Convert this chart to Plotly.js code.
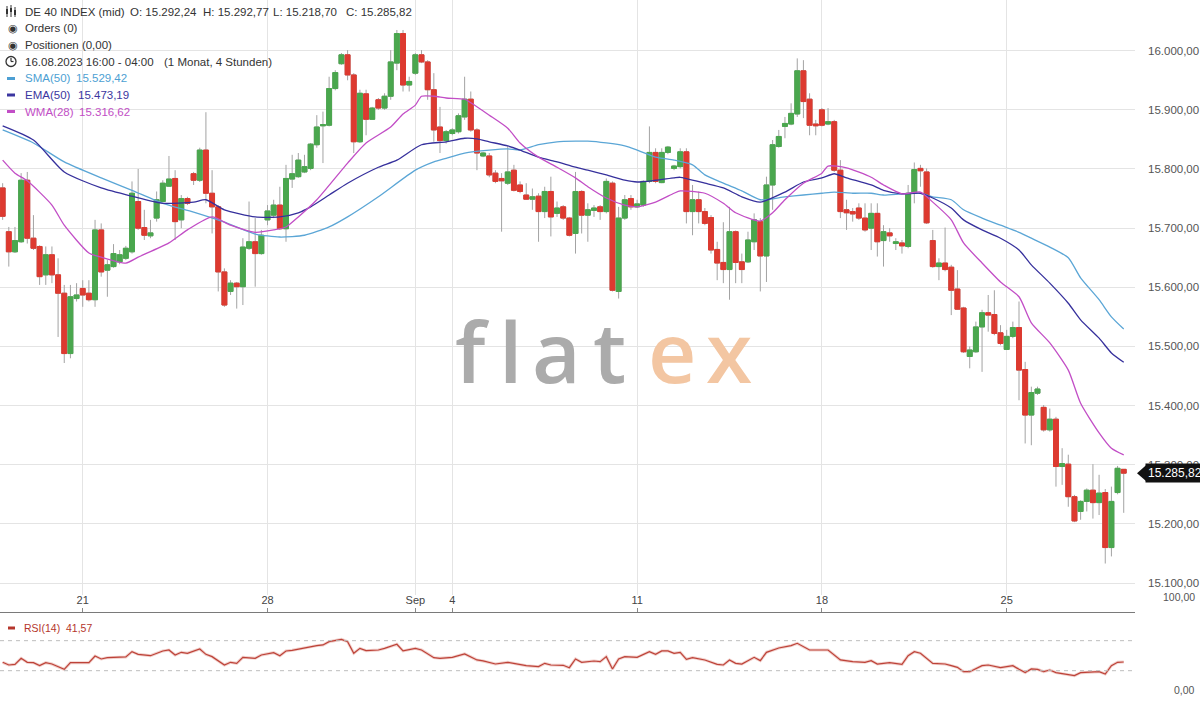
<!DOCTYPE html>
<html><head><meta charset="utf-8">
<script src="https://cdn.plot.ly/plotly-3.0.1.min.js"></script>
<style>html,body{margin:0;padding:0;background:#fff;overflow:hidden}#chart{width:1200px;height:701px}</style>
</head><body><div id="chart"></div>
<script>
// ---- 4h candles DE 40 (index 1 = 16.08.2023 20:00) ----
const openP = [15768,15694,15660,15677,15781,15683,15669,15621,15655,15621,
15590,15488,15581,15598,15590,15579,15697,15629,15635,15643,
15649,15660,15745,15701,15687,15717,15745,15771,15784,15714,
15750,15792,15781,15832,15759,15736,15626,15593,15607,15601,
15666,15677,15657,15714,15722,15739,15699,15783,15787,15795,
15801,15841,15873,15874,15936,15978,15993,15959,15846,15927,
15884,15917,15903,15923,15979,16029,15942,15962,15993,15981,
15934,15871,15848,15860,15863,15888,15918,15866,15822,15822,
15793,15784,15776,15798,15773,15756,15749,15754,15728,15762,
15725,15736,15717,15691,15762,15722,15730,15736,15728,15776,
15593,15717,15750,15736,15739,15779,15828,15777,15828,15801,
15804,15829,15728,15748,15728,15718,15664,15642,15630,15694,
15643,15643,15677,15711,15653,15773,15838,15872,15876,15893,
15966,15918,15876,15900,15876,15880,15798,15731,15728,15734,
15717,15700,15725,15679,15692,15674,15675,15669,15759,15801,
15795,15679,15635,15641,15634,15597,15565,15483,15491,15533,
15557,15554,15523,15495,15517,15532,15461,15384,15421,15397,
15359,15377,15297,15301,15246,15221,15238,15257,15236,15253,
15160,15253,15292.24];
const highP = [15776,15702,15702,15793,15795,15722,15671,15669,15669,15649,
15604,15604,15607,15612,15612,15714,15708,15646,15673,15663,
15670,15779,15800,15731,15714,15762,15781,15822,15798,15756,
15753,15795,15836,15896,15798,15739,15632,15612,15609,15683,
15745,15717,15697,15739,15748,15770,15807,15824,15827,15824,
15844,15891,15897,15956,15967,15996,16001,15962,15934,15934,
15905,15920,15928,16001,16035,16035,15956,15996,16001,15984,
15962,15905,15866,15869,15894,15956,15931,15869,15829,15827,
15798,15793,15839,15807,15779,15776,15767,15759,15770,15787,
15745,15739,15719,15795,15764,15742,15739,15739,15784,15779,
15736,15756,15756,15748,15781,15872,15835,15835,15839,15807,
15835,15835,15773,15762,15734,15722,15677,15710,15736,15696,
15657,15694,15725,15717,15787,15849,15866,15888,15911,15987,
15984,15928,15883,15903,15903,15883,15815,15748,15734,15742,
15742,15742,15742,15705,15700,15683,15680,15773,15811,15807,
15801,15697,15649,15701,15638,15629,15567,15500,15542,15562,
15587,15595,15536,15528,15542,15576,15474,15432,15432,15401,
15395,15381,15328,15317,15249,15240,15260,15301,15283,15259,
15263,15298,15292.77];
const lowP = [15714,15635,15658,15675,15674,15663,15604,15604,15607,15516,
15472,15480,15576,15567,15576,15567,15618,15584,15633,15639,
15646,15657,15697,15680,15683,15711,15743,15770,15680,15700,
15739,15773,15778,15742,15691,15593,15567,15587,15564,15570,
15663,15601,15655,15705,15717,15697,15677,15768,15785,15793,
15798,15836,15810,15872,15933,15976,15950,15827,15844,15857,
15883,15900,15900,15917,15967,15931,15931,15959,15979,15917,
15846,15827,15843,15857,15860,15883,15863,15798,15820,15786,
15776,15694,15773,15762,15759,15748,15731,15677,15717,15686,
15719,15714,15686,15657,15691,15677,15719,15714,15725,15593,
15581,15714,15731,15734,15736,15776,15776,15776,15825,15798,
15801,15708,15688,15708,15705,15657,15612,15607,15579,15607,
15607,15641,15663,15593,15609,15731,15836,15852,15874,15888,
15886,15857,15857,15872,15874,15795,15717,15697,15711,15714,
15694,15663,15652,15635,15677,15663,15657,15666,15742,15770,
15707,15633,15612,15627,15553,15562,15489,15463,15489,15457,
15525,15519,15502,15494,15514,15409,15336,15333,15418,15356,
15356,15263,15266,15229,15203,15207,15221,15209,15215,15133,
15145,15250,15218.70];
const closeP = [15720,15660,15679,15781,15683,15666,15618,15655,15621,15590,
15488,15584,15587,15587,15579,15697,15626,15638,15657,15655,
15666,15759,15700,15688,15692,15748,15776,15783,15711,15750,
15742,15781,15832,15759,15736,15626,15570,15607,15601,15668,
15677,15657,15688,15729,15739,15699,15784,15792,15815,15804,
15842,15871,15875,15936,15963,15993,15959,15846,15928,15884,
15903,15903,15923,15981,16029,15942,15948,15993,15981,15934,
15866,15848,15863,15866,15890,15918,15866,15827,15827,15790,
15779,15780,15795,15764,15762,15749,15753,15728,15762,15719,
15734,15717,15688,15762,15722,15731,15734,15728,15779,15595,
15717,15748,15736,15741,15779,15828,15779,15828,15837,15805,
15829,15728,15748,15728,15708,15663,15641,15630,15694,15642,
15630,15680,15714,15653,15773,15841,15855,15877,15894,15966,
15914,15874,15873,15874,15880,15798,15728,15726,15724,15717,
15697,15725,15677,15694,15687,15677,15670,15759,15799,15797,
15709,15635,15641,15630,15595,15563,15491,15494,15533,15557,
15553,15522,15505,15517,15532,15460,15384,15422,15428,15359,
15377,15297,15302,15246,15205,15238,15257,15236,15252,15160,
15238,15294,15285.82];

// ---- indicators (at candle indices) ----
const smaIdx = [1,6,11,17,22,27,32,37,42,46,50,54,57,62,68,71,73,76,80,83,85,88,91,94,96,99,102,104,107,110,113,115,118,121,124,128,131,134,136,139,142,144,147,150,152,155,157,160,163,166,168,171,174,176,179,181,183];
const smaVal = [15866,15844,15812,15785,15764,15742,15727,15710,15690,15685,15688,15702,15719,15753,15798,15812,15818,15827,15832,15834,15832,15841,15846,15847,15847,15844,15839,15832,15820,15815,15807,15790,15776,15763,15748,15753,15756,15759,15761,15759,15759,15756,15758,15759,15753,15748,15731,15717,15705,15693,15683,15668,15650,15616,15579,15550,15529.42];
const emaIdx = [1,6,11,17,22,27,32,34,37,42,46,49,51,54,57,62,65,69,73,76,78,80,83,85,88,91,94,96,99,102,104,107,110,111,115,118,121,124,128,131,134,136,138,142,144,147,150,152,155,157,160,163,166,168,171,174,176,179,181,183];
const emaVal = [15873,15849,15795,15768,15754,15742,15744,15748,15731,15719,15719,15726,15736,15756,15776,15803,15815,15841,15846,15852,15851,15846,15839,15832,15820,15812,15803,15798,15790,15781,15778,15781,15785,15786,15776,15768,15753,15744,15761,15778,15785,15792,15785,15773,15764,15758,15759,15751,15734,15714,15697,15683,15663,15638,15607,15573,15545,15514,15489,15473.19];
const wmaIdx = [1,3,5,9,11,15,17,21,23,28,31,35,38,42,45,47,49,52,57,60,64,66,68,69,71,73,76,77,80,83,85,88,91,94,96,99,102,104,107,110,111,115,118,120,124,126,128,131,134,135,138,142,144,147,150,152,155,157,160,163,166,168,171,174,176,179,181,183];
const wmaVal = [15815,15793,15780,15739,15705,15658,15651,15641,15651,15675,15697,15719,15705,15693,15697,15702,15719,15748,15810,15844,15871,15893,15908,15923,15923,15920,15918,15912,15891,15869,15844,15820,15803,15785,15770,15751,15739,15736,15744,15759,15763,15759,15742,15726,15712,15726,15748,15776,15793,15805,15802,15786,15773,15758,15761,15744,15714,15675,15641,15609,15584,15540,15506,15460,15404,15354,15328,15316.62];
const rsiIdx = [1,2,3,4,5,6,7,8,9,11,12,15,16,17,18,21,22,23,25,27,28,29,30,31,33,34,35,37,38,39,40,42,43,45,46,47,48,49,50,52,53,54,56,57,58,59,60,62,63,65,66,68,69,71,72,74,76,78,79,81,83,85,86,88,89,90,92,93,94,95,97,98,99,100,101,102,104,106,107,108,109,110,111,112,113,115,117,118,119,120,121,123,124,125,127,129,130,132,135,137,139,141,142,143,145,147,148,149,150,152,154,155,156,157,158,160,161,163,165,166,167,168,169,170,171,172,174,175,176,178,179,180,181,182,183];
const rsiVal = [41.2,37.6,38.5,46.5,41.2,40.7,36.7,40.7,38.9,31.8,40.7,40.7,49.6,45.6,47.4,48.3,55.4,51.8,50.0,56.3,57.6,50.9,54.5,53.2,58.9,51.8,48.7,37.6,41.2,39.8,47.8,46.5,50.9,54.0,50.0,56.3,57.2,58.9,59.8,63.4,64.3,68.7,71.8,68.7,53.2,59.8,56.7,57.6,59.8,65.2,56.3,59.8,57.6,47.4,46.5,47.8,52.3,44.3,43.0,38.9,41.2,38.5,36.7,35.4,39.8,37.6,37.2,34.0,45.6,41.2,42.9,42.0,48.7,32.3,45.6,48.7,47.8,55.4,51.8,56.3,56.3,53.2,54.5,45.2,47.4,44.3,38.5,37.6,44.3,39.8,38.9,47.8,43.4,54.5,60.2,63.4,66.5,57.6,57.6,44.3,42.0,41.2,43.4,38.9,40.7,38.5,50.0,55.4,53.2,39.8,38.9,36.7,34.5,28.7,28.7,36.7,37.6,34.0,36.7,31.8,27.4,32.3,31.8,28.7,30.9,27.4,25.2,23.4,27.4,28.7,28.7,25.6,36.7,41.2,41.57];

// ---- axis labels ----
const dateTickIdx = [14,44,68,74,104,134,164];
const dateTickText = ["21","28","Sep","4","11","18","25"];
const priceTicks = [15100,15200,15300,15400,15500,15600,15700,15800,15900,16000];
const lastClose = 15285.82;

const candleIdx = openP.map((_, k) => k + 1);
const bodyTop = openP.map((o, k) => Math.max(o, closeP[k]));
const bodyBot = openP.map((o, k) => Math.min(o, closeP[k]));

const GREEN = '#4aa74e', RED = '#dd3a30', WICK = '#a3a3a3';
const FONT = 'Liberation Sans, Arial, sans-serif';
const W = 1135, H = 701;
const px = x => x / W;
const py = y => 1 - y / H;

const traces = [
  {type:'candlestick', x:candleIdx, open:openP, high:highP, low:lowP, close:closeP,
   increasing:{line:{color:WICK,width:1}, fillcolor:GREEN},
   decreasing:{line:{color:WICK,width:1}, fillcolor:RED},
   whiskerwidth:0, hoverinfo:'skip', xaxis:'x', yaxis:'y'},
  {type:'candlestick', x:candleIdx, open:openP, high:bodyTop, low:bodyBot, close:closeP,
   increasing:{line:{color:GREEN,width:1}, fillcolor:GREEN},
   decreasing:{line:{color:RED,width:1}, fillcolor:RED},
   whiskerwidth:0, hoverinfo:'skip', xaxis:'x', yaxis:'y'},
  {type:'scatter', mode:'lines', x:smaIdx, y:smaVal, line:{color:'#5ba6d6', width:1.3, shape:'spline', smoothing:0.6}, hoverinfo:'skip', xaxis:'x', yaxis:'y'},
  {type:'scatter', mode:'lines', x:emaIdx, y:emaVal, line:{color:'#36309c', width:1.3, shape:'spline', smoothing:0.6}, hoverinfo:'skip', xaxis:'x', yaxis:'y'},
  {type:'scatter', mode:'lines', x:wmaIdx, y:wmaVal, line:{color:'#c24ec6', width:1.3, shape:'spline', smoothing:0.6}, hoverinfo:'skip', xaxis:'x', yaxis:'y'},
  {type:'scatter', mode:'lines', x:rsiIdx, y:rsiVal, line:{color:'rgba(214,120,110,0.35)', width:3}, hoverinfo:'skip', xaxis:'x2', yaxis:'y2'},
  {type:'scatter', mode:'lines', x:rsiIdx, y:rsiVal, line:{color:'#bd4238', width:1.2}, hoverinfo:'skip', xaxis:'x2', yaxis:'y2'}
];

function txt(x, y, text, color, size, anchor) {
  return {xref:'paper', yref:'paper', x:px(x), y:py(y), text:text, showarrow:false,
    xanchor:anchor||'left', yanchor:'middle', font:{family:FONT, size:size||11.5, color:color||'#333'}};
}
const SMA_C = '#4d9fd3', EMA_C = '#3b36a0', WMA_C = '#c24ec6';
const annotations = [
  txt(23, 11.5, 'DE 40 INDEX (mid)'),
  txt(128, 11.5, 'O: 15.292,24'),
  txt(201, 11.5, 'H: 15.292,77'),
  txt(271, 11.5, 'L: 15.218,70'),
  txt(344, 11.5, 'C: 15.285,82'),
  txt(6, 28, '◉', '#333', 11),
  txt(23, 28, 'Orders (0)'),
  txt(6, 44.5, '◉', '#333', 11),
  txt(23, 44.5, 'Positionen (0,00)'),
  txt(23, 61.5, '16.08.2023 16:00 - 04:00'),
  txt(162, 61.5, '(1 Monat, 4 Stunden)'),
  txt(23, 78.5, 'SMA(50)', SMA_C),
  txt(74, 78.5, '15.529,42', SMA_C),
  txt(23, 95, 'EMA(50)', EMA_C),
  txt(76, 95, '15.473,19', EMA_C),
  txt(23, 111.5, 'WMA(28)', WMA_C),
  txt(77, 111.5, '15.316,62', WMA_C),
  txt(22, 628, 'RSI(14)  41,57', '#b5362c', 10.5),
  txt(1197, 597, '100,00', '#555', 10.5, 'right'),
  txt(1197, 690, '0,00', '#555', 10.5, 'right'),
  {xref:'paper', yref:'y', x:px(1145), y:lastClose, text:'15.285,82', showarrow:false,
   xanchor:'left', yanchor:'middle', bgcolor:'#111', borderpad:2,
   font:{family:FONT, size:12, color:'#fff'}}
];
// flatex watermark
[['f',472,'#ababab'],['l',510,'#ababab'],['a',556,'#ababab'],['t',609,'#ababab'],['e',672,'#f3c6a2'],['x',729,'#f3c6a2']].forEach(([ch, x, c]) => {
  annotations.push({xref:'paper', yref:'paper', x:px(x), y:py(351), text:ch, showarrow:false,
    xanchor:'center', yanchor:'middle', font:{family:'Open Sans, sans-serif', size:84, weight:600, color:c}});
});

const shapes = [
  {type:'line', xref:'paper', yref:'y2', x0:0, x1:1, y0:70, y1:70, line:{color:'#bdbdbd', width:1, dash:'4px,4px'}},
  {type:'line', xref:'paper', yref:'y2', x0:0, x1:1, y0:30, y1:30, line:{color:'#bdbdbd', width:1, dash:'4px,4px'}},
  {type:'path', xref:'paper', yref:'y', path:`M ${px(1137)},${lastClose} L ${px(1146)},${lastClose+13.5} L ${px(1146)},${lastClose-13.5} Z`, fillcolor:'#111', line:{width:0}},
  // icons
  {type:'line', xref:'paper', yref:'paper', x0:px(7), x1:px(7), y0:py(6), y1:py(17), line:{color:'#333', width:1}},
  {type:'rect', xref:'paper', yref:'paper', x0:px(6), x1:px(8), y0:py(9), y1:py(14), fillcolor:'#333', line:{width:0}},
  {type:'line', xref:'paper', yref:'paper', x0:px(11), x1:px(11), y0:py(5), y1:py(17), line:{color:'#333', width:1}},
  {type:'rect', xref:'paper', yref:'paper', x0:px(10), x1:px(12), y0:py(8), y1:py(12), fillcolor:'#333', line:{width:0}},
  {type:'line', xref:'paper', yref:'paper', x0:px(15), x1:px(15), y0:py(7), y1:py(17), line:{color:'#333', width:1}},
  {type:'rect', xref:'paper', yref:'paper', x0:px(14), x1:px(16), y0:py(10), y1:py(15), fillcolor:'#333', line:{width:0}},
  {type:'circle', xref:'paper', yref:'paper', x0:px(6), x1:px(16), y0:py(66.5), y1:py(56.5), line:{color:'#333', width:1.3}},
  {type:'line', xref:'paper', yref:'paper', x0:px(11), x1:px(11), y0:py(61.5), y1:py(58), line:{color:'#333', width:1.2}},
  {type:'line', xref:'paper', yref:'paper', x0:px(11), x1:px(13.5), y0:py(61.5), y1:py(61.5), line:{color:'#333', width:1.2}},
  {type:'rect', xref:'paper', yref:'paper', x0:px(7), x1:px(15), y0:py(80), y1:py(77), fillcolor:SMA_C, line:{width:0}},
  {type:'rect', xref:'paper', yref:'paper', x0:px(7), x1:px(15), y0:py(96.5), y1:py(93.5), fillcolor:EMA_C, line:{width:0}},
  {type:'rect', xref:'paper', yref:'paper', x0:px(7), x1:px(15), y0:py(113), y1:py(110), fillcolor:WMA_C, line:{width:0}},
  {type:'rect', xref:'paper', yref:'paper', x0:px(8), x1:px(15), y0:py(629.5), y1:py(626.5), fillcolor:'#b5362c', line:{width:0}}
];

const layout = {
  width:1200, height:701, margin:{l:0, r:65, t:0, b:0},
  paper_bgcolor:'#fff', plot_bgcolor:'#fff', showlegend:false, hovermode:false,
  separators:',.', font:{family:FONT, color:'#555'},
  boxgap:0.2, boxgroupgap:0,
  xaxis:{domain:[0,1], range:[0.57,184.83], anchor:'y', tickvals:dateTickIdx, showticklabels:false,
         showgrid:true, gridcolor:'#e4e4e4', zeroline:false, rangeslider:{visible:false}, fixedrange:true},
  xaxis2:{matches:'x', anchor:'y2', side:'top', tickvals:dateTickIdx, ticktext:dateTickText,
          showgrid:false, zeroline:false, ticks:'outside', ticklen:4, tickcolor:'#888',
          showline:true, linecolor:'#7a7a7a', linewidth:1,
          tickfont:{family:FONT, size:11, color:'#444'}, rangeslider:{visible:false}},
  yaxis:{domain:[1-595/701,1], range:[15079.8,16085.7], side:'right', tickvals:priceTicks,
         tickformat:',.2f', showgrid:true, gridcolor:'#e4e4e4', zeroline:false, ticks:'',
         ticklabelstandoff:12, tickfont:{family:FONT, size:11.5, color:'#555'}},
  yaxis2:{domain:[0,1-613/701], range:[-10.4,106.9], showgrid:false, zeroline:false,
          showticklabels:false, side:'right'},
  annotations:annotations, shapes:shapes
};

Plotly.newPlot('chart', traces, layout, {displayModeBar:false, staticPlot:true});
</script></body></html>
